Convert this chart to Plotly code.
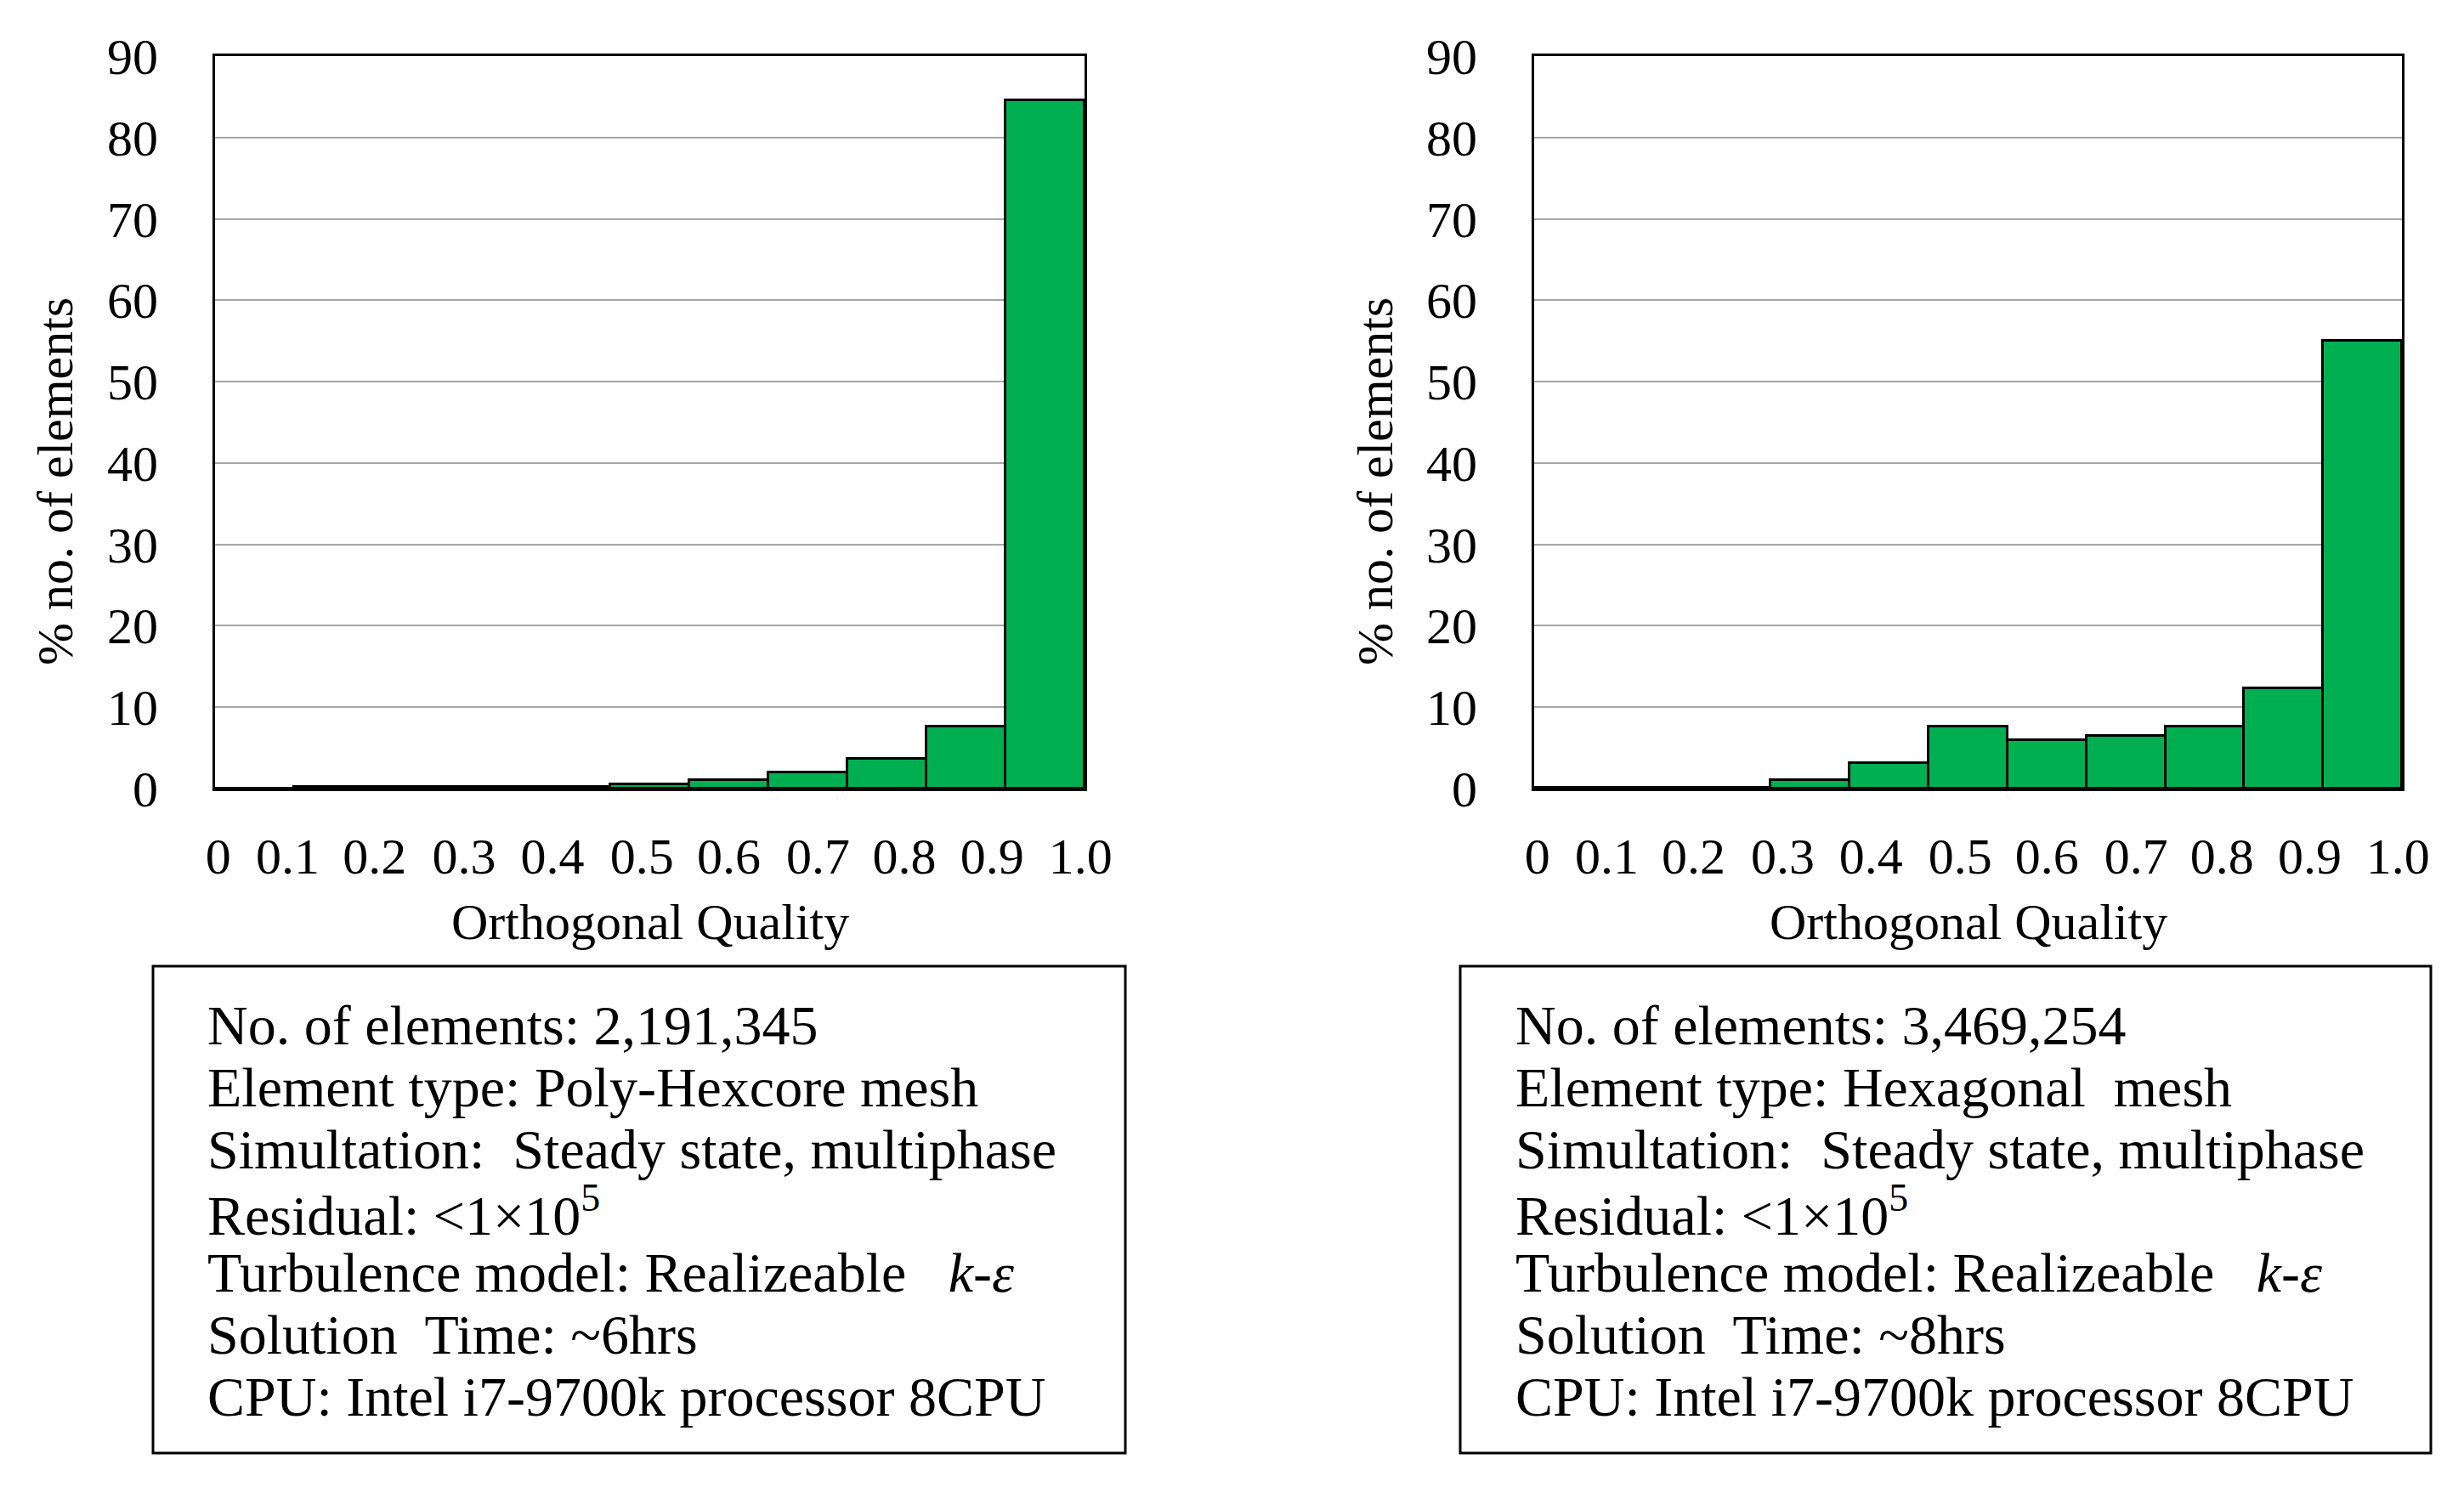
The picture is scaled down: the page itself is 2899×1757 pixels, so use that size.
import plotly.graph_objects as go

W, H = 2899, 1757

# ---------------- data ----------------
bins = list(range(11))
poly_hexcore_pct = [0.05, 0.2, 0.2, 0.2, 0.2, 0.5, 1.0, 2.0, 3.7, 7.6, 84.6]
hexagonal_pct = [0.1, 0.1, 0.1, 1.0, 3.1, 7.6, 5.9, 6.5, 7.6, 12.3, 55.0]
x_tick_labels = ["0", "0.1", "0.2", "0.3", "0.4", "0.5", "0.6", "0.7", "0.8", "0.9", "1.0"]
y_ticks = [0, 10, 20, 30, 40, 50, 60, 70, 80, 90]

left_box_lines = [
    "No. of elements: 2,191,345",
    "Element type: Poly-Hexcore mesh",
    "Simultation:\u00a0 Steady state, multiphase",
    "Residual: &lt;1×10<sup><span style='font-size:46px'>5</span></sup>",
    "Turbulence model: Realizeable\u00a0\u00a0 <i>k</i>-<i>ε</i>",
    "Solution\u00a0 Time: ~6hrs",
    "CPU: Intel i7-9700k processor 8CPU",
]
right_box_lines = [
    "No. of elements: 3,469,254",
    "Element type: Hexagonal\u00a0 mesh",
    "Simultation:\u00a0 Steady state, multiphase",
    "Residual: &lt;1×10<sup><span style='font-size:46px'>5</span></sup>",
    "Turbulence model: Realizeable\u00a0\u00a0 <i>k</i>-<i>ε</i>",
    "Solution\u00a0 Time: ~8hrs",
    "CPU: Intel i7-9700k processor 8CPU",
]
x_title = "Orthogonal Quality"
y_title = "% no. of elements"

# ---------------- style / layout ----------------
FONT = "Liberation Serif, Times New Roman, serif"
GREEN = "#00B050"
# label positions (in bar-index units) of the row of quality labels
label_pos = [-0.46, 0.42, 1.52, 2.65, 3.77, 4.90, 6.0, 7.13, 8.22, 9.33, 10.45]

def px_x(v):
    return v / W

def px_y(v):
    return 1 - v / H

plot_top, plot_bot = 66, 928
panels = [
    dict(x0=253, x1=1276, ytitle_x=65, box=(180, 1324), text_x=242),
    dict(x0=1805, x1=2826, ytitle_x=1618, box=(1718, 2860), text_x=1781),
]

fig = go.Figure()
for i, (vals, p) in enumerate(zip([poly_hexcore_pct, hexagonal_pct], panels)):
    xa = "x" if i == 0 else "x2"
    ya = "y" if i == 0 else "y2"
    fig.add_trace(go.Bar(
        x=bins, y=vals, width=1, xaxis=xa, yaxis=ya,
        marker=dict(color=GREEN, line=dict(color="black", width=3)),
        showlegend=False, hoverinfo="y",
    ))

axis_common_x = dict(
    range=[-0.5, 10.5], showgrid=False, zeroline=False, automargin=False,
    showline=True, linecolor="black", linewidth=3, mirror=True,
    tickmode="array", tickvals=label_pos, ticktext=x_tick_labels,
    ticks="outside", ticklen=25, tickcolor="rgba(0,0,0,0)",
    tickfont=dict(family=FONT, size=60, color="black"),
)
axis_common_y = dict(
    range=[0, 90], tickmode="array", tickvals=y_ticks, automargin=False,
    showgrid=True, gridcolor="#A6A6A6", gridwidth=2, zeroline=False,
    showline=True, linecolor="black", linewidth=3, mirror=True,
    ticks="outside", ticklen=52, tickcolor="rgba(0,0,0,0)",
    tickfont=dict(family=FONT, size=60, color="black"),
)

fig.update_layout(
    template="none",
    width=W, height=H, margin=dict(l=0, r=0, t=0, b=0, pad=0),
    paper_bgcolor="white", plot_bgcolor="white",
    bargap=0,
    xaxis=dict(domain=[px_x(panels[0]["x0"]), px_x(panels[0]["x1"])], anchor="y", **axis_common_x),
    yaxis=dict(domain=[px_y(plot_bot), px_y(plot_top)], anchor="x", **axis_common_y),
    xaxis2=dict(domain=[px_x(panels[1]["x0"]), px_x(panels[1]["x1"])], anchor="y2", **axis_common_x),
    yaxis2=dict(domain=[px_y(plot_bot), px_y(plot_top)], anchor="x2", **axis_common_y),
)

line_y = [1206, 1279, 1352, 1425, 1497, 1570, 1643]
annotations = []
shapes = []
for p, lines in zip(panels, [left_box_lines, right_box_lines]):
    # axis titles
    annotations.append(dict(
        text=y_title, textangle=-90, xref="paper", yref="paper",
        x=px_x(p["ytitle_x"]), y=px_y(567), xanchor="center", yanchor="middle",
        showarrow=False, font=dict(family=FONT, size=60, color="black"),
    ))
    annotations.append(dict(
        text=x_title, xref="paper", yref="paper",
        x=px_x((p["x0"] + p["x1"]) / 2), y=px_y(1085), xanchor="center", yanchor="middle",
        showarrow=False, font=dict(family=FONT, size=60, color="black"),
    ))
    # info box
    bx0, bx1 = p["box"]
    shapes.append(dict(
        type="rect", xref="paper", yref="paper",
        x0=px_x(bx0), x1=px_x(bx1), y0=px_y(1710), y1=px_y(1137),
        line=dict(color="black", width=3), fillcolor="rgba(0,0,0,0)",
    ))
    for ly, txt in zip(line_y, lines):
        annotations.append(dict(
            text=txt, xref="paper", yref="paper",
            x=px_x(p["text_x"]), y=px_y(ly), xanchor="left", yanchor="middle",
            showarrow=False, font=dict(family=FONT, size=66, color="black"),
        ))

fig.update_layout(annotations=annotations, shapes=shapes)
fig.write_html(
    "out.html",
    config={"displayModeBar": False},
    post_script="document.body.style.margin='0px'; document.body.style.overflow='hidden';",
)
